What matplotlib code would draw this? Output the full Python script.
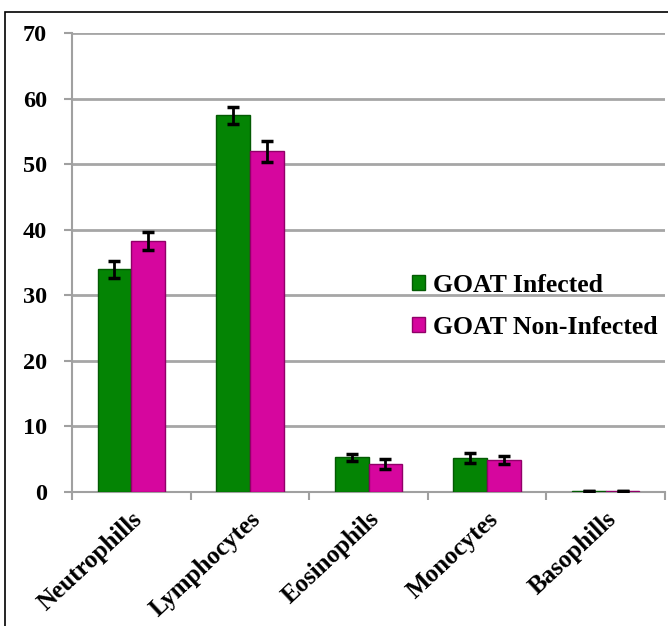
import matplotlib
matplotlib.use("Agg")
import matplotlib.pyplot as plt
import numpy as np
from matplotlib.patches import Rectangle

categories = ["Neutrophills", "Lymphocytes", "Eosinophils", "Monocytes", "Basophills"]
infected = [34.0, 57.5, 5.3, 5.2, 0.1]
infected_err = [1.3, 1.3, 0.5, 0.7, 0.0]
non_infected = [38.3, 52.0, 4.3, 4.9, 0.1]
non_infected_err = [1.4, 1.6, 0.8, 0.6, 0.0]
series_names = ["GOAT Infected", "GOAT Non-Infected"]
yticks = [0, 10, 20, 30, 40, 50, 60, 70]

plt.rcParams['font.family'] = ['Liberation Serif', 'DejaVu Serif']
plt.rcParams['font.weight'] = 'bold'

fig = plt.figure(figsize=(6.68, 6.26), dpi=100)
ax = fig.add_axes([0.1078, 0.214, 0.8877, 0.733])

x = np.arange(len(categories))
w = 0.285
green = "#048404"
magenta = "#d6069e"
ax.bar(x - w/2, infected, w, color=green, edgecolor="#035a03", linewidth=1.0,
       yerr=infected_err, error_kw=dict(ecolor="black", elinewidth=2, capsize=4.5, capthick=2.5),
       label=series_names[0], zorder=3)
ax.bar(x + w/2, non_infected, w, color=magenta, edgecolor="#900068", linewidth=1.0,
       yerr=non_infected_err, error_kw=dict(ecolor="black", elinewidth=2, capsize=4.5, capthick=2.5),
       label=series_names[1], zorder=3)

ax.set_xlim(-0.5, len(categories) - 0.5)
ax.set_ylim(0, 70)
ax.set_yticks(yticks)
ax.set_yticklabels([str(t) for t in yticks], fontsize=17.5, fontweight='bold')
ax.yaxis.grid(True, color="#a6a6a6", linewidth=2, zorder=0)
ax.set_axisbelow(True)
for s in ["top", "right"]:
    ax.spines[s].set_visible(False)
ax.spines["left"].set_color("#a0a0a0")
ax.spines["left"].set_linewidth(1.5)
ax.spines["bottom"].set_color("#a0a0a0")
ax.spines["bottom"].set_linewidth(1.5)
ax.tick_params(axis='y', length=6, color="#a0a0a0", width=1.5, pad=12)

# category boundary ticks
ax.set_xticks(np.arange(-0.5, len(categories), 1.0), minor=False)
ax.set_xticklabels([])
ax.tick_params(axis='x', which='major', length=6, color="#a0a0a0", width=1.5, direction='out')
ax.set_xticks(x, minor=True)
ax.set_xticklabels(categories, minor=True, rotation=43, ha='right', va='top',
                   rotation_mode='anchor', fontsize=18, fontweight='bold')
ax.tick_params(axis='x', which='minor', length=0, pad=11)

leg = ax.legend(loc='center left', bbox_to_anchor=(0.535, 0.405), frameon=False,
                prop={'size': 18.5, 'weight': 'bold'}, handlelength=0.5, handleheight=0.5,
                handletextpad=0.3, labelspacing=0.75)

fig.patches.append(Rectangle((5/668, -0.1), 2.0, 1 - 12/626 + 0.1, transform=fig.transFigure,
                             fill=False, edgecolor="black", linewidth=1.2))

fig.savefig("out.png", dpi=100)
